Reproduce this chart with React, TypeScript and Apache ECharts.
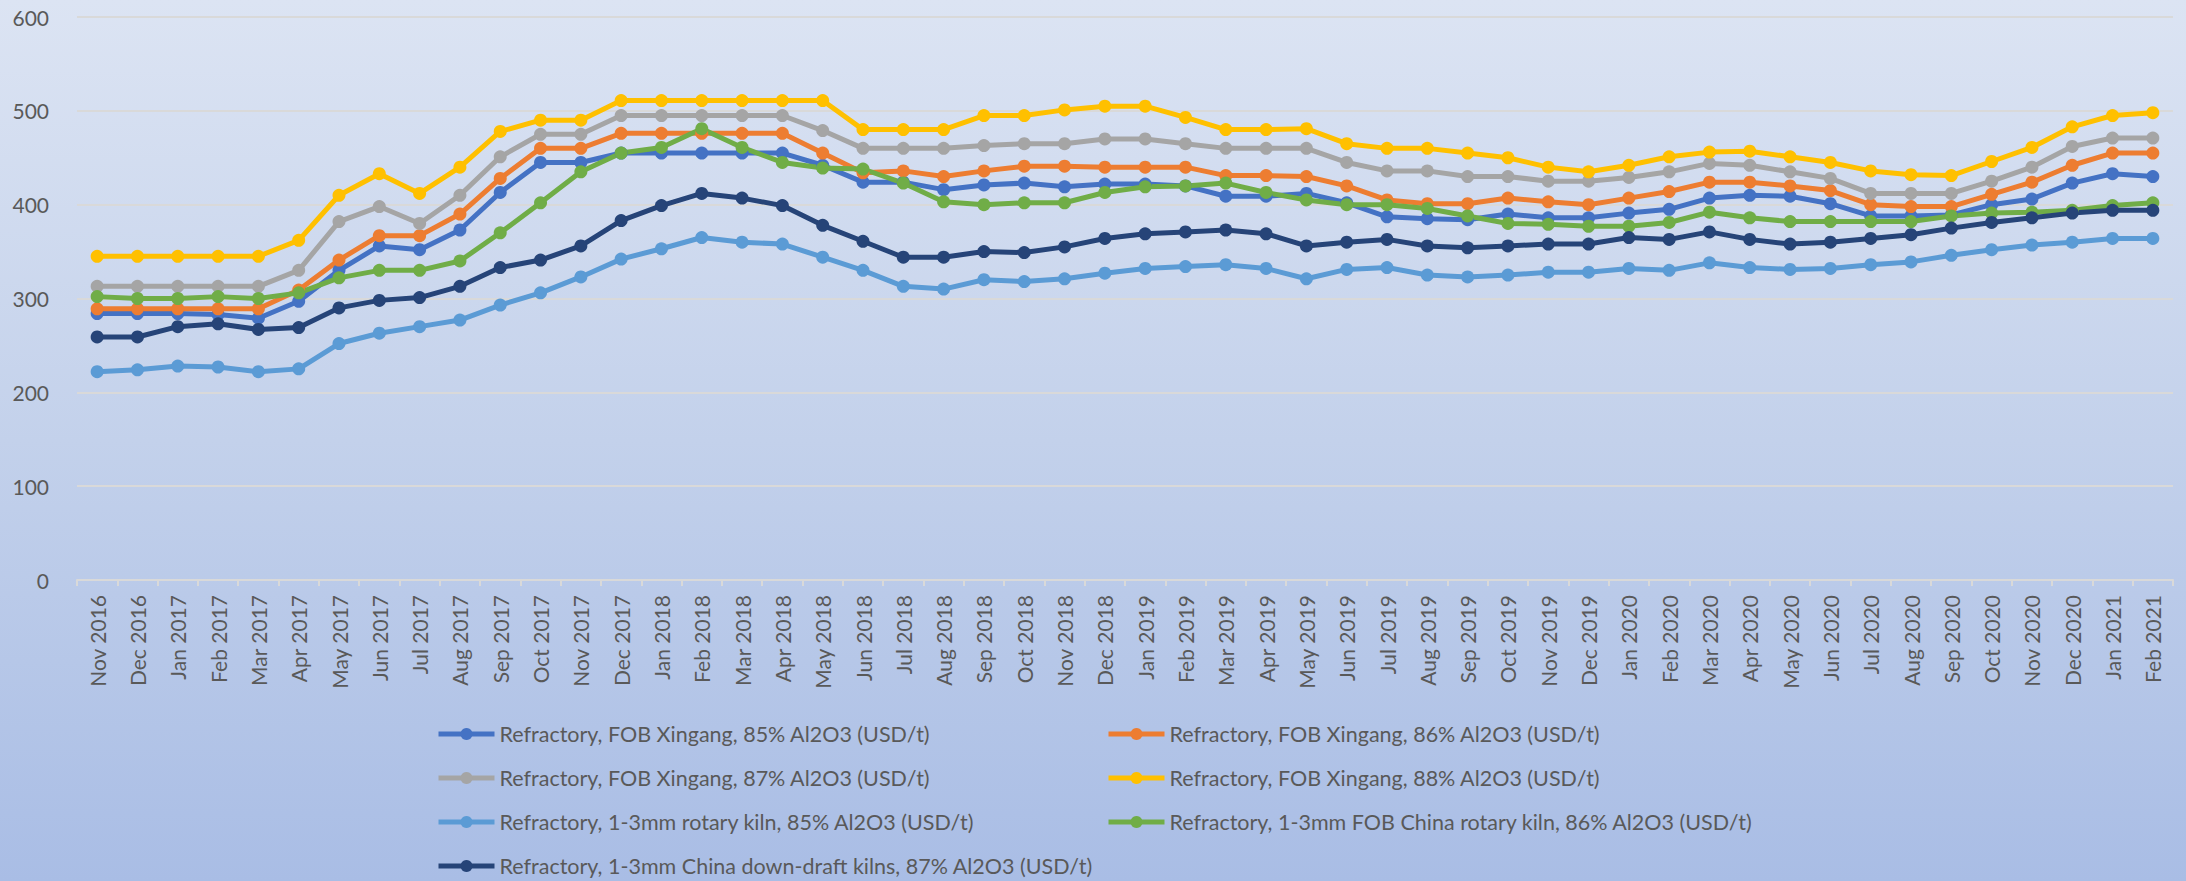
import React, { useEffect, useRef } from "react";
import * as echarts from "echarts";

const categories = [
  "Nov 2016", "Dec 2016",
  "Jan 2017", "Feb 2017", "Mar 2017", "Apr 2017", "May 2017", "Jun 2017", "Jul 2017", "Aug 2017", "Sep 2017", "Oct 2017", "Nov 2017", "Dec 2017",
  "Jan 2018", "Feb 2018", "Mar 2018", "Apr 2018", "May 2018", "Jun 2018", "Jul 2018", "Aug 2018", "Sep 2018", "Oct 2018", "Nov 2018", "Dec 2018",
  "Jan 2019", "Feb 2019", "Mar 2019", "Apr 2019", "May 2019", "Jun 2019", "Jul 2019", "Aug 2019", "Sep 2019", "Oct 2019", "Nov 2019", "Dec 2019",
  "Jan 2020", "Feb 2020", "Mar 2020", "Apr 2020", "May 2020", "Jun 2020", "Jul 2020", "Aug 2020", "Sep 2020", "Oct 2020", "Nov 2020", "Dec 2020",
  "Jan 2021", "Feb 2021",
];

const xingang85 = [
  284, 284, 284, 283, 279, 297, 330, 356, 352, 373, 413, 445,
  445, 455, 455, 455, 455, 455, 442, 424, 424, 416, 421, 423, 419,
  422, 422, 420, 409, 409, 412, 402, 387, 385, 384, 390, 386, 386, 391,
  395, 407, 410, 409, 401, 388, 388, 389, 400, 406, 423, 433, 430,
];
const xingang86 = [
  289, 289, 289, 289, 289, 309, 341, 367, 367, 390, 428, 460,
  460, 476, 476, 476, 476, 476, 455, 434, 436, 430, 436, 441, 441,
  440, 440, 440, 431, 431, 430, 420, 405, 401, 401, 407, 403, 400, 407,
  414, 424, 424, 420, 415, 400, 398, 398, 411, 424, 442, 455, 455,
];
const xingang87 = [
  313, 313, 313, 313, 313, 330, 382, 398, 380, 410, 451, 475,
  475, 495, 495, 495, 495, 495, 479, 460, 460, 460, 463, 465, 465,
  470, 470, 465, 460, 460, 460, 445, 436, 436, 430, 430, 425, 425, 429,
  435, 444, 442, 435, 428, 412, 412, 412, 425, 440, 462, 471, 471,
];
const xingang88 = [
  345, 345, 345, 345, 345, 362, 410, 433, 412, 440, 478, 490,
  490, 511, 511, 511, 511, 511, 511, 480, 480, 480, 495, 495, 501,
  505, 505, 493, 480, 480, 481, 465, 460, 460, 455, 450, 440, 435, 442,
  451, 456, 457, 451, 445, 436, 432, 431, 446, 461, 483, 495, 498,
];
const rotary85 = [
  222, 224, 228, 227, 222, 225, 252, 263, 270, 277, 293, 306,
  323, 342, 353, 365, 360, 358, 344, 330, 313, 310, 320, 318, 321,
  327, 332, 334, 336, 332, 321, 331, 333, 325, 323, 325, 328, 328, 332,
  330, 338, 333, 331, 332, 336, 339, 346, 352, 357, 360, 364, 364,
];
const fobRotary86 = [
  302, 300, 300, 302, 300, 306, 322, 330, 330, 340, 370, 402,
  435, 455, 461, 481, 461, 445, 439, 438, 423, 403, 400, 402, 402,
  413, 419, 420, 423, 413, 405, 400, 400, 396, 388, 380, 379, 377, 377,
  381, 392, 386, 382, 382, 382, 382, 388, 391, 392, 394, 399, 402,
];
const downDraft87 = [
  259, 259, 270, 273, 267, 269, 290, 298, 301, 313, 333, 341,
  356, 383, 399, 412, 407, 399, 378, 361, 344, 344, 350, 349, 355,
  364, 369, 371, 373, 369, 356, 360, 363, 356, 354, 356, 358, 358, 365,
  363, 371, 363, 358, 360, 364, 368, 375, 381, 386, 391, 394, 394,
];

const seriesNames = [
  "Refractory, FOB Xingang, 85% Al2O3 (USD/t)",
  "Refractory, FOB Xingang, 86% Al2O3 (USD/t)",
  "Refractory, FOB Xingang, 87% Al2O3 (USD/t)",
  "Refractory, FOB Xingang, 88% Al2O3 (USD/t)",
  "Refractory, 1-3mm rotary kiln, 85% Al2O3 (USD/t)",
  "Refractory, 1-3mm FOB China rotary kiln, 86% Al2O3 (USD/t)",
  "Refractory, 1-3mm China down-draft kilns, 87% Al2O3 (USD/t)",
];
const seriesData = [xingang85, xingang86, xingang87, xingang88, rotary85, fobRotary86, downDraft87];
const colors = ["#4472C4", "#ED7D31", "#A5A5A5", "#FFC000", "#5B9BD5", "#70AD47", "#264478"];

const FONT = "Lato, 'Open Sans', sans-serif";
const TEXT_COLOR = "#595959";

export default function App() {
  const ref = useRef<HTMLDivElement>(null);

  useEffect(() => {
    if (!ref.current) return;
    const chart = echarts.init(ref.current, undefined, { renderer: "svg" });

    const legendCommon = {
      orient: "vertical" as const,
      itemWidth: 56,
      itemHeight: 15,
      itemGap: 22,
      padding: 0,
      height: 200,
      lineStyle: { width: 5 },
      textStyle: { color: TEXT_COLOR, fontSize: 21.5, fontFamily: FONT },
    };

    chart.setOption({
      animation: false,
      backgroundColor: "transparent",
      color: colors,
      grid: { left: 77, right: 13, top: 17, bottom: 301, containLabel: false },
      legend: [
        { ...legendCommon, left: 436, top: 723, data: [seriesNames[0], seriesNames[2], seriesNames[4], seriesNames[6]] },
        { ...legendCommon, left: 1106, top: 723, data: [seriesNames[1], seriesNames[3], seriesNames[5]] },
      ],
      xAxis: {
        type: "category",
        data: categories,
        boundaryGap: true,
        axisLine: { show: true, lineStyle: { color: "#d9d9d9", width: 2 } },
        axisTick: { show: true, length: 6, alignWithLabel: false, lineStyle: { color: "#d9d9d9", width: 2 } },
        axisLabel: {
          interval: 0,
          rotate: 90,
          margin: 15,
          color: TEXT_COLOR,
          fontSize: 21,
          fontFamily: FONT,
        },
        splitLine: { show: false },
      },
      yAxis: {
        type: "value",
        min: 0,
        max: 600,
        interval: 100,
        axisLine: { show: false },
        axisTick: { show: false },
        axisLabel: { color: TEXT_COLOR, fontSize: 21, fontFamily: FONT, margin: 28 },
        splitLine: { show: true, lineStyle: { color: "#d9d9d9", width: 2 } },
      },
      series: seriesNames.map((name, i) => ({
        name,
        type: "line",
        data: seriesData[i],
        symbol: "circle",
        symbolSize: 13,
        showSymbol: true,
        lineStyle: { width: 5, color: colors[i] },
        itemStyle: { color: colors[i] },
        emphasis: { disabled: true },
      })),
    });

    return () => chart.dispose();
  }, []);

  return (
    <div
      style={{
        position: "absolute",
        left: 0,
        top: 0,
        width: 2186,
        height: 881,
        background: "linear-gradient(180deg, #dce4f3 0%, #c3d1eb 50%, #a9bde5 100%)",
      }}
    >
      <div ref={ref} style={{ width: 2186, height: 881 }} />
    </div>
  );
}
